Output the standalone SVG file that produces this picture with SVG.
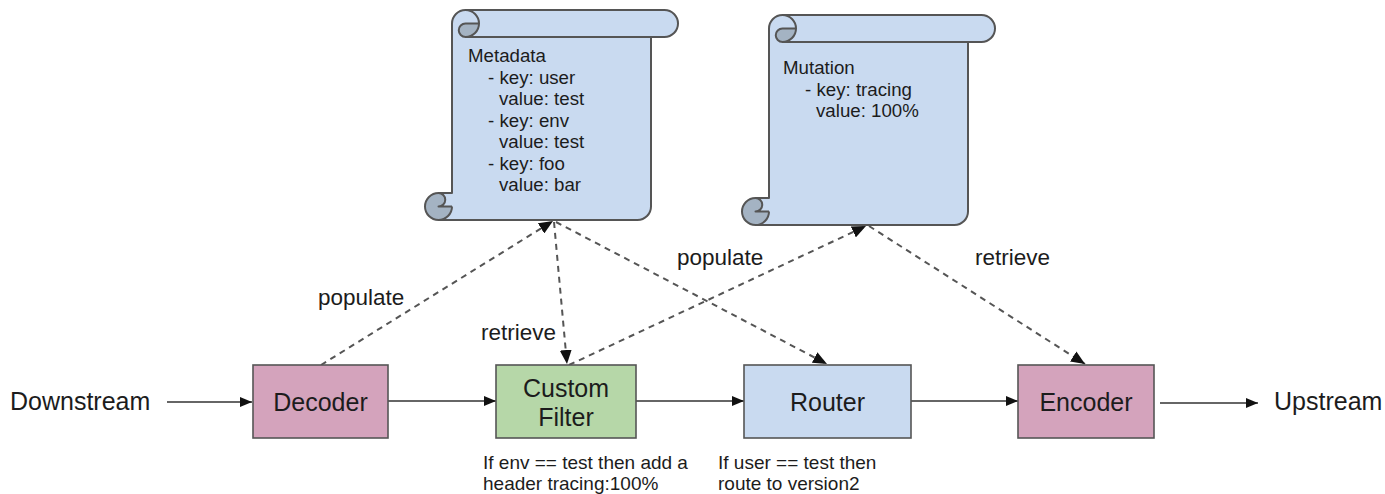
<svg xmlns="http://www.w3.org/2000/svg" width="1385" height="494" viewBox="0 0 1385 494">
<style>
text{font-family:"Liberation Sans",Arial,sans-serif;fill:#1c1c1c}
.big{font-size:25px}
.lbl{font-size:22.5px}
.note{font-size:19px}
.scr{font-size:18.7px}
.box{stroke:#555;stroke-width:1.6}
.scroll-fill{fill:#c9daf0;stroke:none}
.scroll-dark{fill:#a4b3c3;stroke:none}
.scroll-line{fill:none;stroke:#555;stroke-width:2;stroke-linejoin:round}
.solid{fill:none;stroke:#333;stroke-width:1.6}
.dash{fill:none;stroke:#555;stroke-width:2;stroke-dasharray:6 5}
</style>
<defs>
<marker id="ah" viewBox="0 0 12 10" refX="12" refY="5" markerWidth="12" markerHeight="10" markerUnits="userSpaceOnUse" orient="auto">
<path d="M0,0 L12,5 L0,10 z" fill="#111"/>
</marker>
<marker id="ahd" viewBox="0 0 14 12" refX="14" refY="6" markerWidth="14" markerHeight="12" markerUnits="userSpaceOnUse" orient="auto">
<path d="M0,0 L14,6 L0,12 z" fill="#111"/>
</marker>
<g id="scrollShape">
<path class="scroll-fill" d="M452,193 L452,23.5 A13.5,13.5 0 0 1 465.5,10 L664.5,10 A13.5,13.5 0 0 1 664.5,37 L651,37 L651,206.5 A13.5,13.5 0 0 1 637.5,220 L438.5,220 A13.5,13.5 0 0 1 438.5,193 Z"/>
<path class="scroll-dark" d="M479,23.5 A13.5,13.5 0 0 1 465.5,37 A6.75,6.75 0 0 1 465.5,23.5 Z M452,206.5 A13.5,13.5 0 1 1 438.5,193 A6.75,6.75 0 0 1 438.5,206.5 Z"/>
<path class="scroll-line" d="M452,193 L452,23.5 A13.5,13.5 0 0 1 465.5,10 L664.5,10 A13.5,13.5 0 0 1 664.5,37 L651,37 L651,206.5 A13.5,13.5 0 0 1 637.5,220 L438.5,220 A13.5,13.5 0 0 1 438.5,193 Z M465.5,10 A13.5,13.5 0 0 1 465.5,37 A6.75,6.75 0 0 1 465.5,23.5 L479,23.5 M651,37 L465.5,37 M438.5,193 A6.75,6.75 0 0 1 438.5,206.5 L452,206.5 M438.5,220 A13.5,13.5 0 0 0 452,206.5"/>
</g>
</defs>

<g id="connectors">
<line class="solid" x1="167" y1="402" x2="252" y2="402" marker-end="url(#ah)"/>
<line class="solid" x1="388" y1="401" x2="496" y2="401" marker-end="url(#ah)"/>
<line class="solid" x1="636" y1="401" x2="744" y2="401" marker-end="url(#ah)"/>
<line class="solid" x1="911" y1="401" x2="1018" y2="401" marker-end="url(#ah)"/>
<line class="solid" x1="1160" y1="403" x2="1258" y2="403" marker-end="url(#ah)"/>
<line class="dash" x1="321" y1="365" x2="553" y2="221" marker-end="url(#ahd)"/>
<line class="dash" x1="554" y1="222" x2="567" y2="364" marker-end="url(#ahd)"/>
<line class="dash" x1="556" y1="222" x2="827" y2="364" marker-end="url(#ahd)"/>
<line class="dash" x1="569" y1="365" x2="866" y2="226" marker-end="url(#ahd)"/>
<line class="dash" x1="869" y1="226" x2="1085" y2="364" marker-end="url(#ahd)"/>
<text class="lbl" x="318" y="305">populate</text>
<text class="lbl" x="481" y="340">retrieve</text>
<text class="lbl" x="677" y="265">populate</text>
<text class="lbl" x="975" y="265">retrieve</text>
</g>

<g id="downstream">
<text class="big" x="10" y="410">Downstream</text>
</g>
<g id="upstream">
<text class="big" x="1274" y="410">Upstream</text>
</g>

<g id="decoder">
<rect class="box" x="253" y="365" width="135" height="73" fill="#d4a3bc"/>
<text class="big" x="320.5" y="410.5" text-anchor="middle">Decoder</text>
</g>
<g id="custom-filter">
<rect class="box" x="496" y="365" width="140" height="73" fill="#b6d7a8"/>
<text class="big" x="566" y="397" text-anchor="middle">Custom</text>
<text class="big" x="566" y="426" text-anchor="middle">Filter</text>
<text class="note" x="483" y="469">If env == test then add a</text>
<text class="note" x="483" y="490">header tracing:100%</text>
</g>
<g id="router">
<rect class="box" x="744" y="365" width="167" height="73" fill="#c9daf0"/>
<text class="big" x="827.5" y="410.5" text-anchor="middle">Router</text>
<text class="note" x="718" y="469">If user == test then</text>
<text class="note" x="718" y="490">route to version2</text>
</g>
<g id="encoder">
<rect class="box" x="1018" y="365" width="136" height="73" fill="#d4a3bc"/>
<text class="big" x="1086" y="410.5" text-anchor="middle">Encoder</text>
</g>

<g id="metadata">
<use href="#scrollShape"/>
<text class="scr" x="468" y="62">Metadata</text>
<text class="scr" x="488" y="83.5">- key: user</text>
<text class="scr" x="499" y="105">value: test</text>
<text class="scr" x="488" y="126.5">- key: env</text>
<text class="scr" x="499" y="148">value: test</text>
<text class="scr" x="488" y="169.5">- key: foo</text>
<text class="scr" x="499" y="191">value: bar</text>
</g>
<g id="mutation">
<use href="#scrollShape" transform="translate(317,5)"/>
<text class="scr" x="783" y="74">Mutation</text>
<text class="scr" x="805" y="96">- key: tracing</text>
<text class="scr" x="816" y="117">value: 100%</text>
</g>
</svg>
